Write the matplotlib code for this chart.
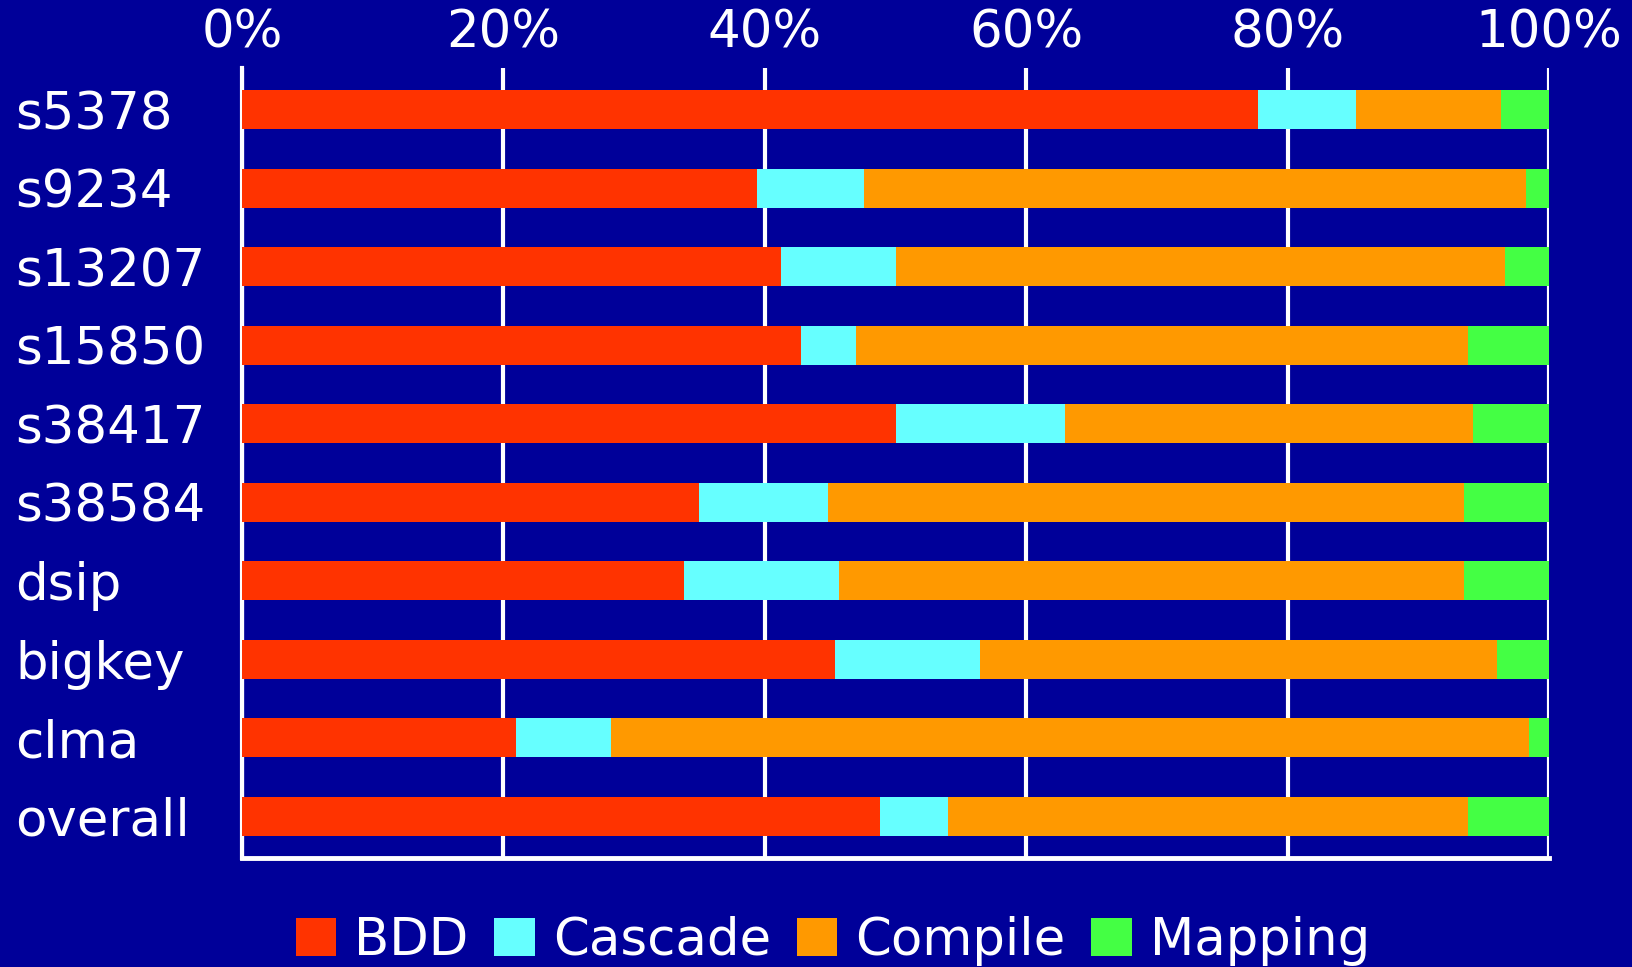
import numpy as np
import matplotlib
matplotlib.use("Agg")
import matplotlib.pyplot as plt
from matplotlib.ticker import PercentFormatter

# ---------- Data: share of run time per stage (%) ----------
circuits = ["s5378", "s9234", "s13207", "s15850", "s38417",
            "s38584", "dsip", "bigkey", "clma", "overall"]
bdd     = [77.7, 39.4, 41.2, 42.8, 50.0, 35.0, 33.8, 45.4, 21.0, 48.8]
cascade = [ 7.5,  8.2,  8.8,  4.2, 13.0,  9.8, 11.9, 11.1,  7.2,  5.2]
compile_ = [11.1, 50.6, 46.6, 46.8, 31.2, 48.7, 47.8, 39.5, 70.3, 39.8]
mapping = [ 3.7,  1.8,  3.4,  6.2,  5.8,  6.5,  6.5,  4.0,  1.5,  6.2]

stages = ["BDD", "Cascade", "Compile", "Mapping"]
colors = ["#FF3300", "#66FFFF", "#FF9900", "#44FF44"]
BG = "#000099"

plt.rcParams["font.family"] = ["DejaVu Sans"]
FS = 37

fig = plt.figure(figsize=(16.33, 9.67), dpi=100, facecolor=BG)
ax = fig.add_axes([0.1482, 0.1127, 0.8004, 0.817], facecolor=BG)

y = np.arange(len(circuits))
left = np.zeros(len(circuits))
for name, vals, c in zip(stages, [bdd, cascade, compile_, mapping], colors):
    vals = np.asarray(vals)
    ax.barh(y, vals, left=left, height=0.5, color=c, label=name,
            edgecolor="none", zorder=3)
    left += vals

ax.set_xlim(0, 100)
ax.set_ylim(9.53, -0.53)
ax.set_xticks([0, 20, 40, 60, 80, 100])
ax.xaxis.set_major_formatter(PercentFormatter(decimals=0))
ax.xaxis.tick_top()
ax.set_yticks(y)
ax.set_yticklabels(circuits)
for lab in ax.get_yticklabels():
    lab.set_horizontalalignment("left")

ax.tick_params(axis="x", length=0, pad=6.5, labelsize=FS, labelcolor="white")
ax.tick_params(axis="y", length=0, pad=163, labelsize=FS, labelcolor="white")

ax.grid(axis="x", color="white", linewidth=3, zorder=1)
ax.set_axisbelow(True)
for s in ["top", "right"]:
    ax.spines[s].set_visible(False)
ax.spines["left"].set_color("white")
ax.spines["left"].set_linewidth(3)
ax.spines["bottom"].set_color("white")
ax.spines["bottom"].set_linewidth(3.5)

fig.legend(loc="center", bbox_to_anchor=(0.51, 0.027), ncol=4, frameon=False,
           fontsize=FS, labelcolor="white", handlelength=0.79, handleheight=0.77,
           handletextpad=0.35, columnspacing=0.5, borderaxespad=0)

fig.savefig("out.png", dpi=100, facecolor=BG)
